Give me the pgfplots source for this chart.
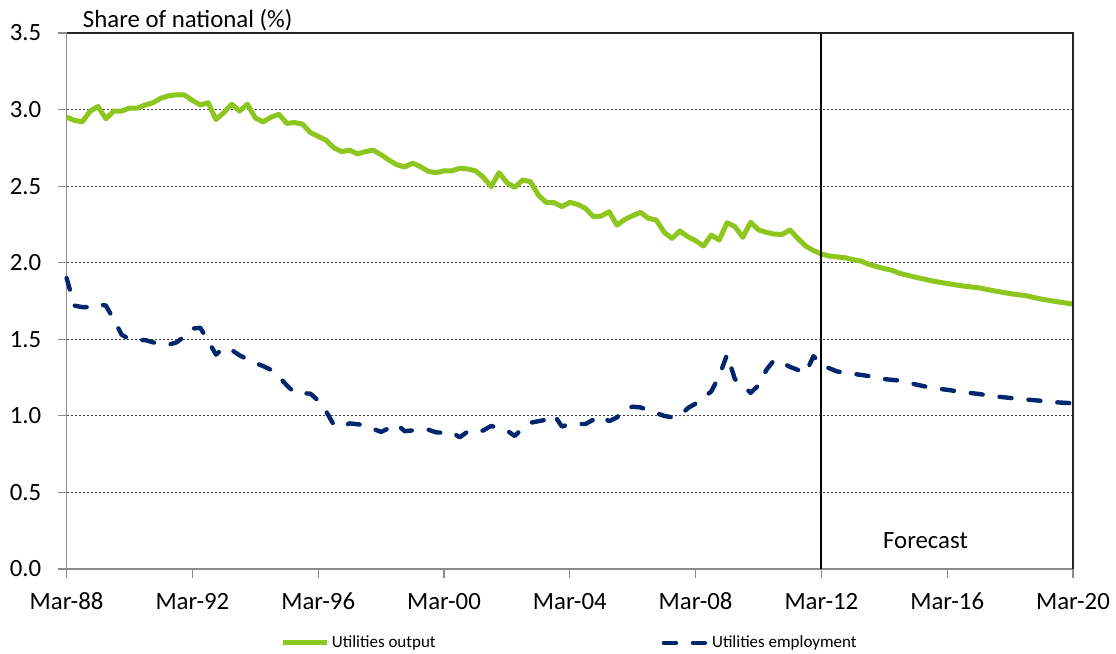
\documentclass[border=0pt]{standalone}
\usepackage{pgfplots}
\pgfplotsset{compat=1.18}
\usepackage{fontspec}
\setmainfont{Carlito}
\definecolor{outgreen}{RGB}{140,198,30}
\definecolor{empblue}{RGB}{0,38,110}
\begin{document}
\begin{tikzpicture}
\useasboundingbox (-33.3pt,-42.5pt) rectangle (524.7pt,284.5pt);
\begin{axis}[
  scale only axis,
  width=503.2pt, height=268pt,
  xmin=0, xmax=128, ymin=0, ymax=3.5,
  axis lines*=left,
  axis line style={black!45, line width=0.6pt, -},
  tick align=outside,
  major tick length=4.5pt,
  tick style={black!45, line width=0.6pt},
  xtick={0,16,32,48,64,80,96,112,128},
  xticklabels={Mar-88,Mar-92,Mar-96,Mar-00,Mar-04,Mar-08,Mar-12,Mar-16,Mar-20},
  ytick={0,0.5,1,1.5,2,2.5,3,3.5},
  yticklabel style={/pgf/number format/fixed, /pgf/number format/precision=1, /pgf/number format/fixed zerofill},
  /pgf/number format/assume math mode=true,
  ticklabel style={font=\fontsize{12.4}{14}\selectfont, text=black},
  xticklabel style={anchor=base, inner sep=0pt, yshift=-16pt},
  yticklabel style={anchor=east, inner sep=0pt, xshift=-8pt},
  ymajorgrids,
  grid style={black!75, line width=0.5pt, dash pattern=on 1pt off 1pt},
  legend style={at={(axis description cs:0.5,-0.138)}, anchor=center, draw=none, fill=none,
    font=\fontsize{8.5}{10}\selectfont, inner sep=0pt, nodes={inner xsep=1pt},
    /tikz/every even column/.append style={column sep=112pt}},
  legend columns=2,
  legend cell align=left,
  legend image code/.code={\draw[#1] (0pt,0pt) -- (22pt,0pt);},
  clip=false,
]
\addplot[color=outgreen, line width=2.5pt, line join=round] coordinates {
(0,2.95) (1,2.93) (2,2.92) (3,2.99) (4,3.02) (5,2.94) (6,2.99) (7,2.99) (8,3.01) (9,3.01)
(10,3.03) (11,3.045) (12,3.075) (13,3.09) (14,3.097) (15,3.095) (16,3.06) (17,3.03) (18,3.045) (19,2.935)
(20,2.98) (21,3.035) (22,2.99) (23,3.035) (24,2.945) (25,2.92) (26,2.95) (27,2.97) (28,2.91) (29,2.915)
(30,2.905) (31,2.85) (32,2.825) (33,2.80) (34,2.75) (35,2.725) (36,2.735) (37,2.71) (38,2.725) (39,2.735)
(40,2.705) (41,2.67) (42,2.64) (43,2.625) (44,2.65) (45,2.627) (46,2.597) (47,2.588) (48,2.60) (49,2.60)
(50,2.617) (51,2.612) (52,2.60) (53,2.558) (54,2.497) (55,2.588) (56,2.523) (57,2.492) (58,2.54) (59,2.529)
(60,2.442) (61,2.394) (62,2.392) (63,2.366) (64,2.394) (65,2.381) (66,2.355) (67,2.301) (68,2.305) (69,2.333)
(70,2.246) (71,2.283) (72,2.307) (73,2.329) (74,2.29) (75,2.279) (76,2.199) (77,2.159) (78,2.207) (79,2.17)
(80,2.144) (81,2.109) (82,2.181) (83,2.148) (84,2.261) (85,2.236) (86,2.166) (87,2.264) (88,2.214) (89,2.198)
(90,2.187) (91,2.185) (92,2.214) (93,2.159) (94,2.109) (95,2.079) (96,2.057) (97,2.044) (98,2.038) (99,2.033)
(100,2.02) (101,2.011) (102,1.99) (103,1.975) (104,1.962) (105,1.95) (106,1.93) (108,1.905) (110,1.882)
(112,1.864) (114,1.848) (116,1.836) (118,1.816) (120,1.798) (122,1.785) (124,1.762) (126,1.745) (128,1.73)
};
\addlegendentry{Utilities output}
\addplot[color=empblue, line width=2.2pt, line cap=round, line join=round, dash pattern=on 6pt off 8.5pt] coordinates {
(0,1.90) (1,1.72) (2,1.71) (3,1.71) (4,1.73) (5,1.72) (6,1.63) (7,1.53) (8,1.50) (9,1.495)
(10,1.495) (11,1.48) (12,1.465) (13,1.465) (14,1.48) (15,1.52) (16,1.57) (17,1.575) (18,1.49) (19,1.40)
(20,1.445) (21,1.43) (22,1.395) (23,1.37) (24,1.345) (25,1.325) (26,1.30) (27,1.255) (28,1.20) (29,1.15)
(30,1.148) (31,1.145) (32,1.10) (33,1.03) (34,0.94) (35,0.93) (36,0.951) (37,0.945) (38,0.94) (39,0.915)
(40,0.895) (41,0.92) (42,0.945) (43,0.90) (44,0.905) (45,0.912) (46,0.91) (47,0.892) (48,0.89) (49,0.893)
(50,0.86) (51,0.897) (52,0.89) (53,0.905) (54,0.934) (55,0.92) (56,0.905) (57,0.868) (58,0.92) (59,0.955)
(60,0.965) (61,0.975) (62,1.006) (63,0.93) (64,0.947) (65,0.947) (66,0.947) (67,0.975) (68,0.999) (69,0.965)
(70,0.99) (71,1.045) (72,1.06) (73,1.055) (74,1.035) (75,1.017) (76,1.00) (77,0.99) (78,1.00) (79,1.05)
(80,1.08) (81,1.12) (82,1.16) (83,1.26) (84,1.40) (85,1.24) (86,1.20) (87,1.15) (88,1.20) (89,1.30)
(90,1.365) (91,1.345) (92,1.32) (93,1.30) (94,1.28) (95,1.39) (96,1.332) (98,1.29) (100,1.275) (102,1.26)
(104,1.24) (106,1.23) (108,1.205) (110,1.183) (112,1.17) (114,1.155) (116,1.143) (118,1.128) (120,1.117)
(122,1.107) (124,1.098) (126,1.088) (128,1.082)
};
\addlegendentry{Utilities employment}
\addplot[black, line width=1pt, forget plot] coordinates {(96,0) (96,3.5)};
\draw[black!85, line width=0.7pt] (rel axis cs:0,1) -- (rel axis cs:1,1) -- (rel axis cs:1,0);
\node[anchor=base west, inner sep=0pt, font=\fontsize{12.4}{14}\selectfont] at (axis cs:103.8,0.137) {Forecast};
\node[anchor=base west, inner sep=0pt, font=\fontsize{12.4}{14}\selectfont] at (rel axis cs:0,1) [xshift=8pt, yshift=3pt] {Share of national (\%)};
\end{axis}
\end{tikzpicture}
\end{document}
